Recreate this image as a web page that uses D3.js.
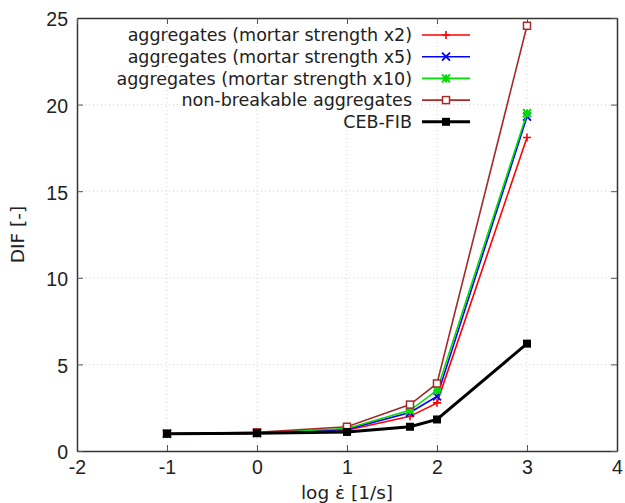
<!DOCTYPE html>
<html lang="en">
<head>
    <meta charset="UTF-8">
    <title>DIF vs strain rate</title>
    <script src="https://d3js.org/d3.v7.min.js"></script>
    <style>
        body { margin: 0; background: #fff; font-family: "DejaVu Sans", sans-serif; }
        .tick text { font-size: 19.5px; fill: #222; }
        .legend text { font-size: 17.5px; fill: #222; }
        .axis-title { font-size: 18.5px; fill: #222; }
    </style>
</head>
<body>
    <div id="chart"></div>
    <script>
        // Data
        const logRate = [-1, 0, 1, 1.7, 2, 3];
        const mortarX2 = [1.0, 1.02, 1.2, 2.0, 2.78, 18.1];
        const mortarX5 = [1.0, 1.03, 1.25, 2.22, 3.15, 19.3];
        const mortarX10 = [1.0, 1.05, 1.3, 2.35, 3.5, 19.5];
        const nonBreakable = [1.0, 1.08, 1.4, 2.68, 3.9, 24.55];
        const cebFib = [1.0, 1.03, 1.1, 1.4, 1.82, 6.2];
        const xTicks = [-2, -1, 0, 1, 2, 3, 4];
        const yTicks = [0, 5, 10, 15, 20, 25];

        const series = [
          { name: "aggregates (mortar strength x2)", values: mortarX2, color: "#ff0000", marker: "plus", width: 1.6 },
          { name: "aggregates (mortar strength x5)", values: mortarX5, color: "#0000ff", marker: "cross", width: 1.6 },
          { name: "aggregates (mortar strength x10)", values: mortarX10, color: "#00e000", marker: "star", width: 1.6 },
          { name: "non-breakable aggregates", values: nonBreakable, color: "#a52a2a", marker: "square", width: 1.6 },
          { name: "CEB-FIB", values: cebFib, color: "#000000", marker: "filled", width: 3 }
        ];

        const W = 625, H = 503;
        const margin = { top: 18, right: 8, bottom: 52, left: 77 };
        const width = W - margin.left - margin.right;
        const height = H - margin.top - margin.bottom;

        const svg = d3.select("#chart").append("svg")
          .attr("width", W).attr("height", H);
        const g = svg.append("g")
          .attr("transform", `translate(${margin.left},${margin.top})`);

        const x = d3.scaleLinear().domain([-2, 4]).range([0, width]);
        const y = d3.scaleLinear().domain([0, 25]).range([height, 0]);

        // Grid
        g.append("g").selectAll("line").data(xTicks.slice(1, -1)).join("line")
          .attr("x1", d => x(d)).attr("x2", d => x(d))
          .attr("y1", 0).attr("y2", height)
          .attr("stroke", "#d4d4d4").attr("stroke-dasharray", "1,3");
        g.append("g").selectAll("line").data(yTicks.slice(1, -1)).join("line")
          .attr("y1", d => y(d)).attr("y2", d => y(d))
          .attr("x1", 0).attr("x2", width)
          .attr("stroke", "#d4d4d4").attr("stroke-dasharray", "1,3");

        const fmt = d => String(d);

        // Axes
        g.append("g").attr("transform", `translate(0,${height})`)
          .call(d3.axisBottom(x).tickValues(xTicks).tickFormat(fmt).tickSizeInner(-6).tickSizeOuter(0).tickPadding(9));
        const yAxis = g.append("g")
          .call(d3.axisLeft(y).tickValues(yTicks).tickFormat(fmt).tickSizeInner(-6).tickSizeOuter(0).tickPadding(9));
        g.append("g")
          .call(d3.axisTop(x).tickValues(xTicks).tickSizeInner(-6).tickSizeOuter(0).tickFormat(""));
        g.append("g").attr("transform", `translate(${width},0)`)
          .call(d3.axisRight(y).tickValues(yTicks).tickSizeInner(-6).tickSizeOuter(0).tickFormat(""));
        g.selectAll(".domain").attr("stroke", "#333").attr("stroke-width", 1.5);
        g.selectAll(".tick line").attr("stroke", "#555");
        yAxis.selectAll(".tick text").attr("dy", "0.4em");

        // Axis titles
        svg.append("text").attr("class", "axis-title")
          .attr("x", margin.left + width / 2).attr("y", 499)
          .attr("text-anchor", "middle")
          .text("log \u03B5\u0307 [1/s]");
        svg.append("text").attr("class", "axis-title")
          .attr("transform", `translate(24,${margin.top + height / 2}) rotate(-90)`)
          .attr("text-anchor", "middle")
          .text("DIF [-]");

        // Marker drawing
        function drawMarker(sel, type, color) {
          const s = 4;
          if (type === "plus") {
            sel.append("path").attr("d", `M${-s},0H${s}M0,${-s}V${s}`)
              .attr("stroke", color).attr("stroke-width", 1.6).attr("fill", "none");
          } else if (type === "cross") {
            sel.append("path").attr("d", `M${-s},${-s}L${s},${s}M${-s},${s}L${s},${-s}`)
              .attr("stroke", color).attr("stroke-width", 1.8).attr("fill", "none");
          } else if (type === "star") {
            sel.append("path").attr("d", `M${-s},0H${s}M0,${-s}V${s}M${-s},${-s}L${s},${s}M${-s},${s}L${s},${-s}`)
              .attr("stroke", color).attr("stroke-width", 2).attr("fill", "none");
          } else if (type === "square") {
            sel.append("rect").attr("x", -3.5).attr("y", -3.5).attr("width", 7).attr("height", 7)
              .attr("stroke", color).attr("stroke-width", 1.5).attr("fill", "#fff");
          } else {
            sel.append("rect").attr("x", -4).attr("y", -4).attr("width", 8).attr("height", 8)
              .attr("fill", color);
          }
        }

        // Lines and markers
        series.forEach(s => {
          const pts = logRate.map((v, i) => [v, s.values[i]]);
          g.append("path").datum(pts)
            .attr("fill", "none").attr("stroke", s.color).attr("stroke-width", s.width)
            .attr("d", d3.line().x(d => x(d[0])).y(d => y(d[1])));
          pts.forEach(p => {
            const m = g.append("g").attr("transform", `translate(${x(p[0])},${y(p[1])})`);
            drawMarker(m, s.marker, s.color);
          });
        });

        // Legend
        const legend = svg.append("g").attr("class", "legend");
        series.forEach((s, i) => {
          const row = legend.append("g").attr("transform", `translate(0,${35 + i * 21.7})`);
          row.append("text").attr("x", 412).attr("y", 0).attr("dy", "0.35em")
            .attr("text-anchor", "end").text(s.name);
          row.append("line").attr("x1", 422).attr("x2", 470)
            .attr("stroke", s.color).attr("stroke-width", s.width);
          const m = row.append("g").attr("transform", "translate(446,0)");
          drawMarker(m, s.marker, s.color);
        });
    </script>
</body>
</html>
